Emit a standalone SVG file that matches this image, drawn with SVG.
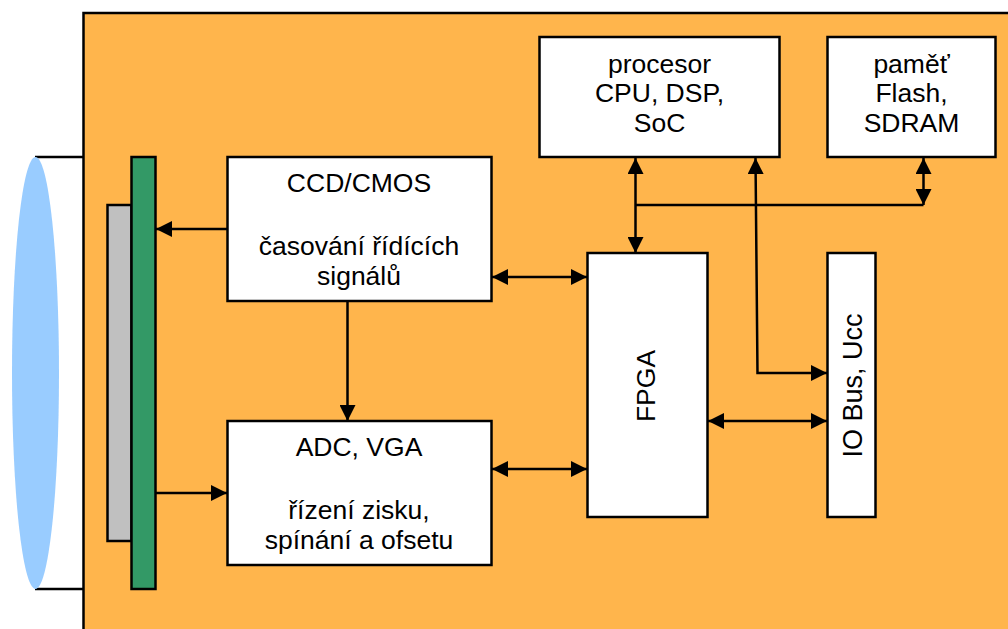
<svg xmlns="http://www.w3.org/2000/svg" width="1008" height="629" viewBox="0 0 1008 629">
<style>
.b{fill:#fff;stroke:#000;stroke-width:2.5}
.t{font-family:"Liberation Sans",Arial,sans-serif;font-size:26.5px;fill:#000;text-anchor:middle}
.c{fill:none;stroke:#000;stroke-width:2.5}
.s{stroke:#000;stroke-width:2.5}
</style>
<defs>
<marker id="a" markerUnits="userSpaceOnUse" markerWidth="16" markerHeight="16" refX="16" refY="8" orient="auto-start-reverse"><path d="M0 0L16 8L0 16Z" fill="#000"/></marker>
</defs>
<rect width="1008" height="629" fill="#fff"/>
<rect id="board" class="s" x="83.500" y="13" width="930" height="630" fill="#ffb54c"/>
<g id="lens">
<path d="M35 157H83M35 589H83" class="c"/>
<ellipse cx="35.500" cy="373" rx="23.500" ry="216" fill="#99ccff"/>
</g>
<g id="sensor-gray"><rect class="s" x="107.500" y="205" width="24" height="336" fill="#c0c0c0"/></g>
<g id="sensor-green"><rect class="s" x="131.500" y="157" width="24" height="432" fill="#339966"/></g>
<g id="connectors">
<path class="c" marker-end="url(#a)" d="M227 229H156"/>
<path class="c" marker-end="url(#a)" d="M156 493H227"/>
<path class="c" marker-end="url(#a)" d="M347.500 301V421"/>
<path class="c" marker-start="url(#a)" marker-end="url(#a)" d="M492 277H587"/>
<path class="c" marker-start="url(#a)" marker-end="url(#a)" d="M492 469H587"/>
<path class="c" marker-start="url(#a)" marker-end="url(#a)" d="M708 421H827"/>
<path class="c" marker-start="url(#a)" marker-end="url(#a)" d="M635.500 158V253"/>
<path class="c" d="M635.500 205H923.500"/>
<path class="c" marker-start="url(#a)" marker-end="url(#a)" d="M923.500 158V205"/>
<path class="c" marker-start="url(#a)" marker-end="url(#a)" d="M755.500 158L757.500 373H827"/>
</g>
<g id="ccd"><rect class="b" x="227.500" y="157" width="264" height="144"/>
<text class="t" x="359" y="192">CCD/CMOS</text><text class="t" x="359" y="255">časování řídících</text><text class="t" x="359" y="285">signálů</text></g>
<g id="adc"><rect class="b" x="227.500" y="421" width="264" height="144"/>
<text class="t" x="359" y="456">ADC, VGA</text><text class="t" x="359" y="519">řízení zisku,</text><text class="t" x="359" y="549">spínání a ofsetu</text></g>
<g id="fpga"><rect class="b" x="587.500" y="253" width="120" height="264"/>
<text class="t" transform="translate(655 386) rotate(-90)">FPGA</text></g>
<g id="io"><rect class="b" x="827.500" y="253" width="48" height="264"/>
<text class="t" style="font-size:27px" transform="translate(862 385.500) rotate(-90)">IO Bus, Ucc</text></g>
<g id="cpu"><rect class="b" x="539.500" y="37" width="240" height="120"/>
<text class="t" x="659.500" y="73">procesor</text><text class="t" x="659.500" y="102">CPU, DSP,</text><text class="t" x="659.500" y="132">SoC</text></g>
<g id="mem"><rect class="b" x="827.500" y="37" width="168" height="120"/>
<text class="t" x="911.500" y="73">paměť</text><text class="t" x="911.500" y="102">Flash,</text><text class="t" x="911.500" y="132">SDRAM</text></g>
</svg>
